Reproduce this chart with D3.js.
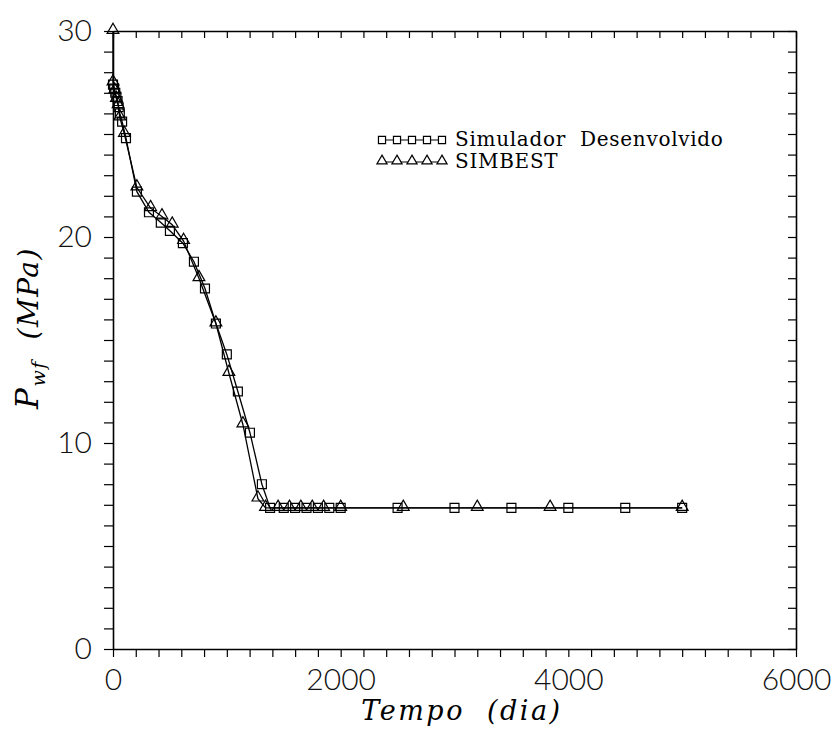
<!DOCTYPE html>
<html>
<head>
<meta charset="utf-8">
<script src="https://cdn.jsdelivr.net/npm/d3@7.9.0/dist/d3.min.js"></script>
<style>
  body { margin: 0; background: #fff; }
  svg { display: block; }
  .tick text { font-family: "Lato", "DejaVu Sans", sans-serif; font-weight: 300; }
</style>
</head>
<body>
<div id="chart"></div>
<script>
// Simulador Desenvolvido (squares)
const simTime = [0, 10, 20, 30, 40, 50, 60, 80, 114, 210, 316, 420, 500, 614, 711, 808, 904, 1000, 1097, 1203, 1308, 1380,
  1500, 1600, 1700, 1800, 1900, 2000, 2500, 3000, 3500, 4000, 4500, 5000];
const simPress = [27.4, 27.2, 27.0, 26.8, 26.6, 26.3, 26.0, 25.6, 24.8, 22.2, 21.2, 20.7, 20.3, 19.7, 18.8, 17.5, 15.8, 14.3, 12.5, 10.5, 8.0, 6.85,
  6.85, 6.85, 6.85, 6.85, 6.85, 6.85, 6.85, 6.85, 6.85, 6.85, 6.85, 6.85];

// SIMBEST (triangles)
const bestTime = [0, 0, 15, 30, 45, 60, 100, 210, 330, 430, 520, 620, 755, 904, 1018, 1141, 1273, 1340,
  1450, 1550, 1650, 1750, 1850, 2000, 2550, 3200, 3840, 5000];
const bestPress = [30, 27.5, 27.1, 26.7, 26.4, 25.8, 25.0, 22.4, 21.4, 21.0, 20.6, 19.8, 18.0, 15.8, 13.4, 10.9, 7.3, 6.85,
  6.85, 6.85, 6.85, 6.85, 6.85, 6.85, 6.85, 6.85, 6.85, 6.85];

const xTickLabels = [0, 2000, 4000, 6000];
const yTickLabels = [0, 10, 20, 30];
const legendNames = ["Simulador  Desenvolvido", "SIMBEST"];

const width = 834, height = 730;
const plotLeft = 113, plotRight = 796, plotTop = 31, plotBottom = 649;

const svg = d3.select('#chart').append('svg')
  .attr('width', width).attr('height', height);

const x = d3.scaleLinear().domain([0, 6000]).range([plotLeft, plotRight]);
const y = d3.scaleLinear().domain([0, 30]).range([plotBottom, plotTop]);

const xMinor = d3.range(0, 6001, 200);
const yMinor = d3.range(0, 31, 1);

function styleAxis(g) {
  g.selectAll('path.domain').attr('stroke', '#000').attr('stroke-width', 1.6);
  g.selectAll('.tick line').attr('stroke', '#000').attr('stroke-width', 1.2);
  g.selectAll('.tick text').attr('fill', '#111').attr('font-size', 30);
}

// bottom axis
svg.append('g')
  .attr('transform', `translate(0,${plotBottom})`)
  .call(d3.axisBottom(x).tickValues(xMinor).tickSize(8).tickSizeOuter(0).tickPadding(12)
    .tickFormat(d => xTickLabels.includes(d) ? d : ''))
  .call(styleAxis);

// top axis (ticks pointing in)
svg.append('g')
  .attr('transform', `translate(0,${plotTop})`)
  .call(d3.axisBottom(x).tickValues(xMinor).tickSize(7).tickSizeOuter(0).tickFormat(''))
  .call(styleAxis);

// left axis
svg.append('g')
  .attr('transform', `translate(${plotLeft},0)`)
  .call(d3.axisLeft(y).tickValues(yMinor).tickSize(9).tickSizeOuter(0).tickPadding(12)
    .tickFormat(d => yTickLabels.includes(d) ? d : ''))
  .call(styleAxis);

// right axis (ticks pointing in)
svg.append('g')
  .attr('transform', `translate(${plotRight},0)`)
  .call(d3.axisLeft(y).tickValues(yMinor).tickSize(8).tickSizeOuter(0).tickFormat(''))
  .call(styleAxis);

const simData = simTime.map((t, i) => ({ t, p: simPress[i] }));
const bestData = bestTime.map((t, i) => ({ t, p: bestPress[i] }));

const line = d3.line().x(d => x(d.t)).y(d => y(d.p));

svg.append('path').datum(simData)
  .attr('d', line).attr('fill', 'none').attr('stroke', '#000').attr('stroke-width', 1.3);
svg.append('path').datum(bestData)
  .attr('d', line).attr('fill', 'none').attr('stroke', '#000').attr('stroke-width', 1.3);

const sq = d3.symbol().type(d3.symbolSquare).size(80);
const tri = d3.symbol().type(d3.symbolTriangle).size(60);

svg.append('g').selectAll('path').data(bestData).join('path')
  .attr('d', tri)
  .attr('transform', d => `translate(${x(d.t)},${y(d.p) - 1})`)
  .attr('fill', 'none').attr('stroke', '#000').attr('stroke-width', 1.2);

svg.append('g').selectAll('path').data(simData).join('path')
  .attr('d', sq)
  .attr('transform', d => `translate(${x(d.t)},${y(d.p)})`)
  .attr('fill', 'none').attr('stroke', '#000').attr('stroke-width', 1.2);

// legend
const legend = svg.append('g').attr('transform', 'translate(378,140)');
legendNames.forEach((name, i) => {
  const row = legend.append('g').attr('transform', `translate(0,${i * 22})`);
  row.append('line').attr('x1', 0).attr('x2', 68).attr('y1', 0).attr('y2', 0)
    .attr('stroke', '#000').attr('stroke-width', 1.2);
  d3.range(5).forEach(k => {
    row.append('path')
      .attr('d', i === 0 ? d3.symbol().type(d3.symbolSquare).size(50)() : d3.symbol().type(d3.symbolTriangle).size(45)())
      .attr('transform', `translate(${4 + k * 15},${i === 0 ? 0 : -1})`)
      .attr('fill', '#fff').attr('stroke', '#000').attr('stroke-width', 1.2);
  });
  row.append('text')
    .attr('x', 77).attr('y', 6)
    .attr('font-family', '"DejaVu Serif", serif')
    .attr('font-size', 20)
    .attr('letter-spacing', 0.7)
    .style('white-space', 'pre')
    .text(name);
});

// axis titles
svg.append('text')
  .attr('x', 462).attr('y', 720)
  .attr('text-anchor', 'middle')
  .attr('font-family', '"DejaVu Serif", serif')
  .attr('font-style', 'italic')
  .attr('font-size', 27)
  .attr('letter-spacing', 2.5)
  .style('white-space', 'pre')
  .text('Tempo  (dia)');

const yt = svg.append('text')
  .attr('transform', 'translate(38,328) rotate(-90)')
  .attr('text-anchor', 'middle')
  .attr('font-family', '"DejaVu Serif", serif')
  .attr('font-style', 'italic')
  .attr('font-size', 28)
  .attr('letter-spacing', 1.5)
  .style('white-space', 'pre');
yt.append('tspan').attr('font-size', 31).text('P');
yt.append('tspan').attr('font-size', 19).attr('dy', 7).text('wf');
yt.append('tspan').attr('dy', -7).text('  (MPa)');
</script>
</body>
</html>
